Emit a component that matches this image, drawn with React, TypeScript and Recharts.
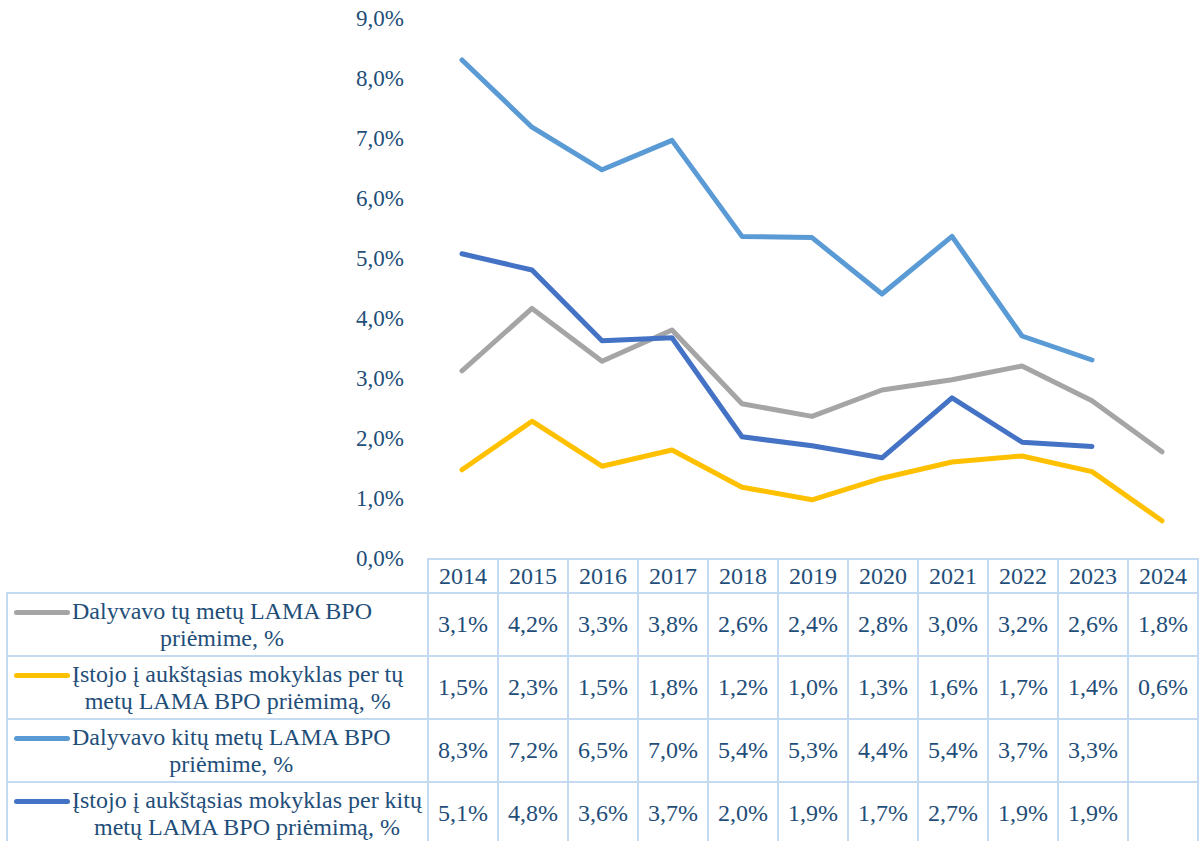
import React from 'react';
import { Line, LineChart, XAxis, YAxis } from 'recharts';

const years = ['2014', '2015', '2016', '2017', '2018', '2019', '2020', '2021', '2022', '2023', '2024'];
const participatedSame = [3.12, 4.16, 3.28, 3.8, 2.57, 2.36, 2.8, 2.97, 3.2, 2.62, 1.77];
const enrolledSame = [1.47, 2.28, 1.53, 1.8, 1.18, 0.97, 1.33, 1.6, 1.7, 1.44, 0.62];
const participatedOther = [8.3, 7.18, 6.47, 6.96, 5.36, 5.34, 4.4, 5.36, 3.7, 3.3, null];
const enrolledOther = [5.07, 4.8, 3.62, 3.67, 2.02, 1.87, 1.67, 2.67, 1.93, 1.86, null];
const yTicks = [0, 1, 2, 3, 4, 5, 6, 7, 8, 9];

const series = [
  { key: 'participatedSame', values: participatedSame, color: '#a5a5a5', label: ['Dalyvavo tų metų LAMA BPO', 'priėmime, %'] },
  { key: 'enrolledSame', values: enrolledSame, color: '#ffc000', label: ['Įstojo į aukštąsias mokyklas per tų', 'metų LAMA BPO priėmimą, %'] },
  { key: 'participatedOther', values: participatedOther, color: '#5b9bd5', label: ['Dalyvavo kitų metų LAMA BPO', 'priėmime, %'] },
  { key: 'enrolledOther', values: enrolledOther, color: '#4472c4', label: ['Įstojo į aukštąsias mokyklas per kitų', 'metų LAMA BPO priėmimą, %'] },
];

const data = years.map((year, i) => {
  const row: Record<string, string | number | null> = { year };
  series.forEach((s) => {
    row[s.key] = s.values[i];
  });
  return row;
});

const fmt = (v: number | null) => (v == null ? '' : v.toFixed(1).replace('.', ',') + '%');

const font = '"Liberation Serif", "Times New Roman", serif';
const textColor = '#1f4e79';
const gridColor = '#c3daf0';
const plotLeft = 427;
const colW = 70;
const bottom = 558;

export default function App() {
  const border = `2px solid ${gridColor}`;
  return (
    <div style={{ position: 'absolute', left: 0, top: 0, width: 1200, height: 841, overflow: 'hidden', background: '#fff', fontFamily: font }}>
      <LineChart width={1200} height={841} data={data} margin={{ top: 18, right: 3, bottom: 841 - bottom, left: 0 }}>
        <XAxis dataKey="year" hide padding={{ left: colW / 2, right: colW / 2 }} />
        <YAxis
          width={plotLeft}
          domain={[0, 9]}
          ticks={yTicks}
          tickFormatter={(v: number) => v.toFixed(1).replace('.', ',') + '%'}
          axisLine={false}
          tickLine={false}
          tickSize={0}
          tickMargin={23}
          tick={{ fill: textColor, fontSize: 23, fontFamily: font }}
        />
        {series.map((s) => (
          <Line
            key={s.key}
            dataKey={s.key}
            stroke={s.color}
            strokeWidth={5}
            strokeLinecap="round"
            strokeLinejoin="round"
            dot={false}
            activeDot={false}
            isAnimationActive={false}
          />
        ))}
      </LineChart>

      <table
        style={{
          position: 'absolute',
          left: 6,
          top: bottom,
          borderCollapse: 'collapse',
          tableLayout: 'fixed',
          fontFamily: font,
          fontSize: 24,
          color: textColor,
        }}
      >
        <colgroup>
          <col style={{ width: plotLeft - 6 }} />
          {years.map((y) => (
            <col key={y} style={{ width: colW }} />
          ))}
        </colgroup>
        <tbody>
          <tr style={{ height: 34 }}>
            <td style={{ padding: 0 }} />
            {years.map((y) => (
              <td key={y} style={{ border, textAlign: 'center', padding: 0, lineHeight: '30px' }}>
                {y}
              </td>
            ))}
          </tr>
          {series.map((s) => (
            <tr key={s.key} style={{ height: 63 }}>
              <td style={{ border, padding: '0 0 0 6px', verticalAlign: 'middle' }}>
                <div style={{ display: 'flex', alignItems: 'flex-start', lineHeight: '27px' }}>
                  <span
                    style={{
                      display: 'inline-block',
                      width: 56,
                      height: 5,
                      borderRadius: 3,
                      background: s.color,
                      marginTop: 12,
                      marginRight: 2,
                      flex: 'none',
                    }}
                  />
                  <div style={{ textAlign: 'center', whiteSpace: 'nowrap' }}>
                    {s.label[0]}
                    <br />
                    {s.label[1]}
                  </div>
                </div>
              </td>
              {s.values.map((v, i) => (
                <td key={i} style={{ border, textAlign: 'center', padding: 0 }}>
                  {fmt(v)}
                </td>
              ))}
            </tr>
          ))}
        </tbody>
      </table>
    </div>
  );
}
